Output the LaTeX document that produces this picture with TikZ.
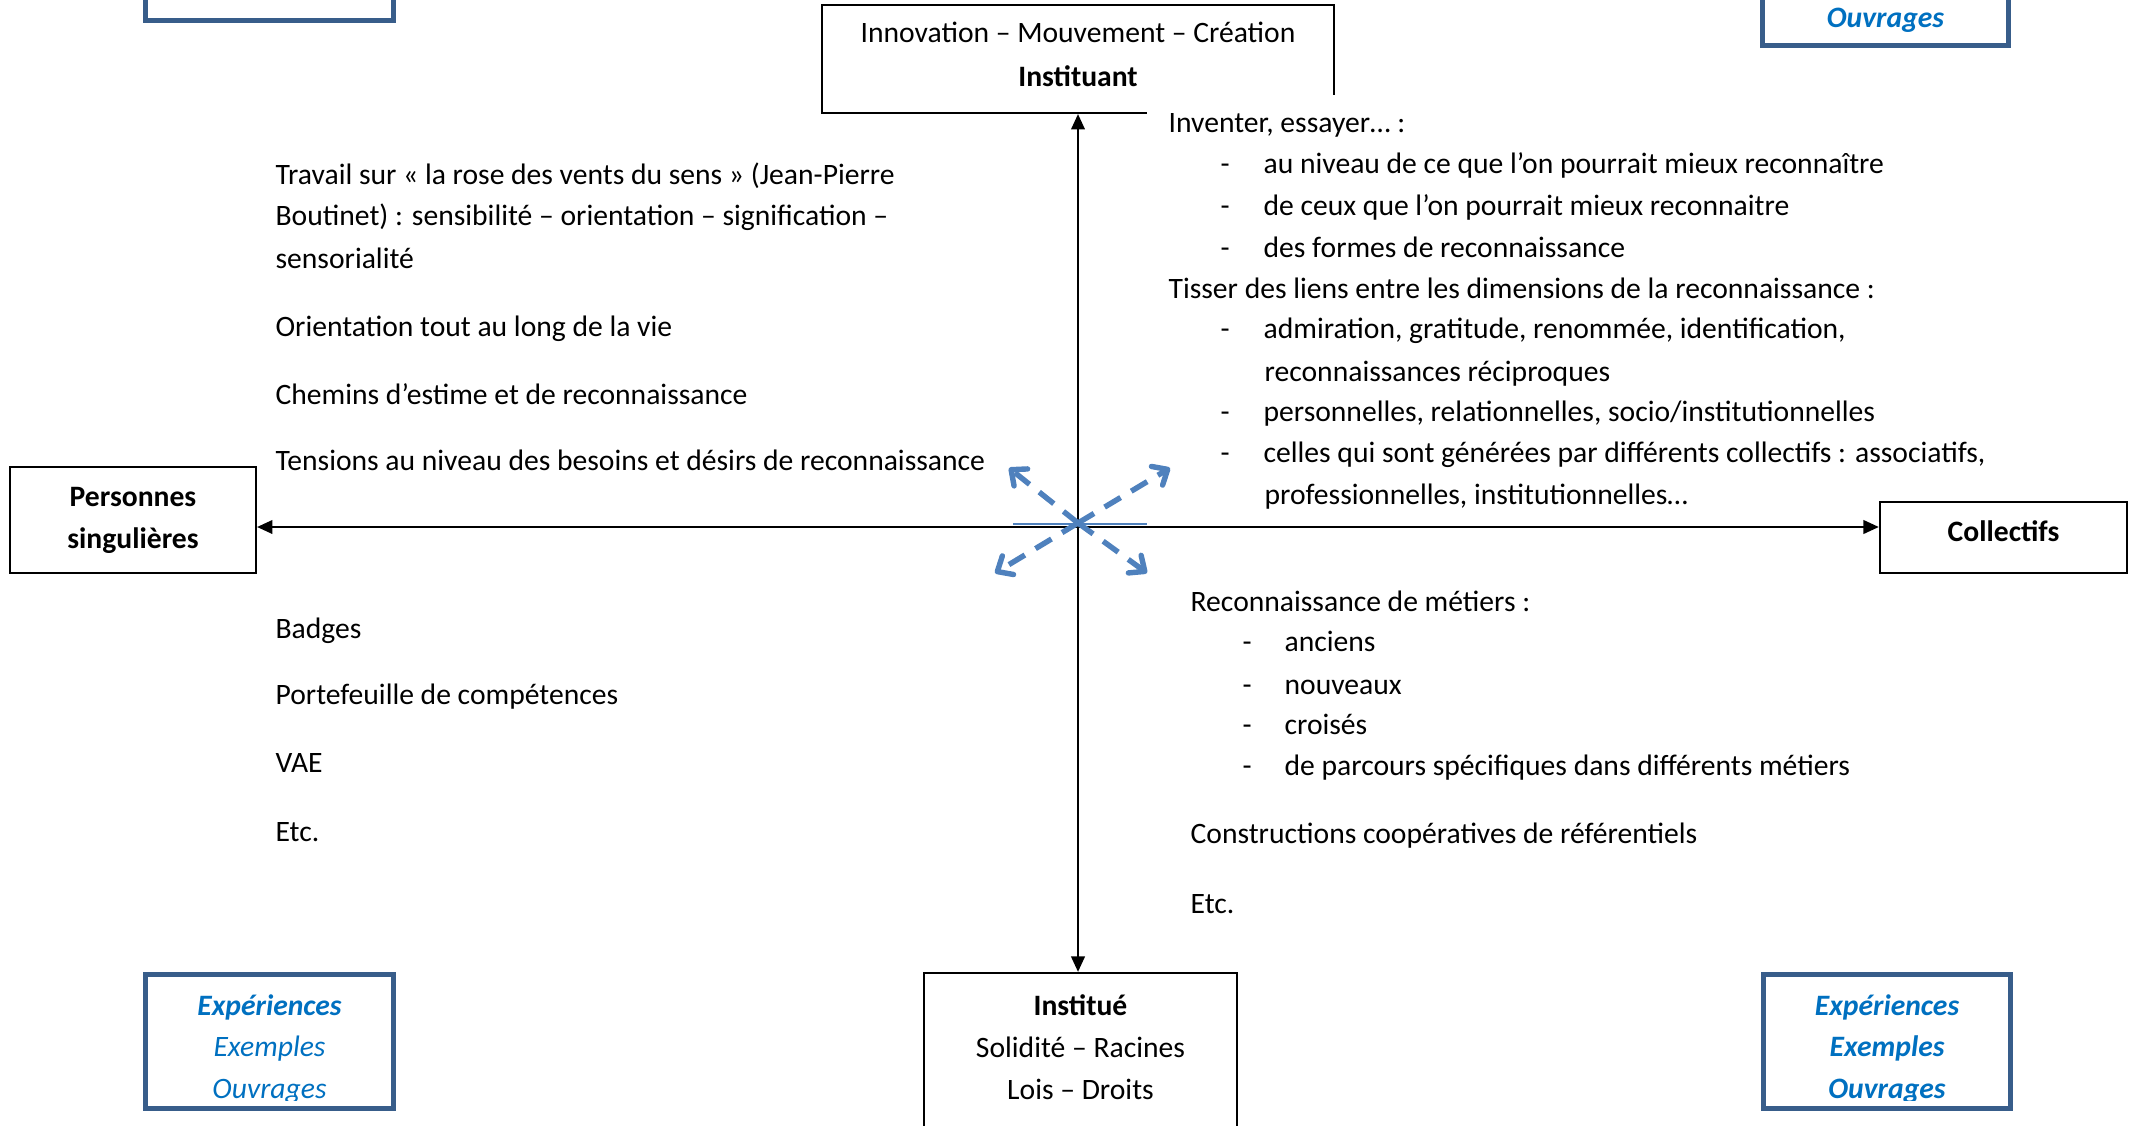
\documentclass[tikz,border=0pt]{standalone}
\usepackage{fontspec}
\setmainfont{Carlito}
\usetikzlibrary{arrows.meta,positioning}
\definecolor{frameblue}{HTML}{385D8A}
\definecolor{textblue}{HTML}{0070C0}
\definecolor{roseblue}{HTML}{4F81BD}
\newcommand{\basefont}{\fontsize{9.55pt}{11.6pt}\selectfont}
\tikzset{
  blackbox/.style={draw, line width=0.65pt, inner sep=0pt},
  blueframe/.style={draw=frameblue, line width=1.6pt},
  lbl/.style={anchor=base, inner sep=0pt, font=\basefont},
  bold/.style={font=\basefont\bfseries},
  bluelbl/.style={lbl, text=textblue, font=\basefont\itshape},
  bluebold/.style={lbl, text=textblue, font=\basefont\bfseries\itshape},
  txt/.style={anchor=base west, inner sep=0pt, font=\basefont},
  axisarrow/.style={line width=0.9pt,
    {Triangle[length=5pt,width=4.3pt]}-{Triangle[length=5pt,width=4.3pt]}},
  rose/.style={roseblue, line width=1.75pt, dash pattern=on 6pt off 4pt,
    -{Straight Barb[length=4pt,width=7pt,round]}}
}
\begin{document}
\begin{tikzpicture}[x=0.3225pt, y=-0.3225pt]
  \useasboundingbox (0,0) rectangle (2134,1125);
  \clip (0,0) rectangle (2134,1125);

  % top and bottom poles
  \node[blackbox, minimum width=165.1pt, minimum height=34.8pt] (inst) at (1078,59) {};
  \node[lbl] (inst-a) at (1078,43) {Innovation – Mouvement – Création};
  \node[lbl, bold] (inst-b) at (1078,87) {Instituant};
  \fill[white] (1147,95) rectangle (1345,120); % frame of the text block

  \node[blackbox, minimum width=100.9pt, minimum height=51.3pt] (instue) at (1080.5,1052.5) {};
  \node[lbl, bold] (instue-a) at (1080.5,1015) {Institué};
  \node[lbl] (instue-b) at (1080.5,1057) {Solidité – Racines};
  \node[lbl] (instue-c) at (1080.5,1099) {Lois – Droits};

  % left and right poles
  \node[blackbox, minimum width=79.3pt, minimum height=34.2pt] (pers) at (133,520) {};
  \node[lbl, bold] (pers-a) at (133,506) {Personnes};
  \node[lbl, bold] (pers-b) at (133,548) {singulières};

  \node[blackbox, minimum width=79.7pt, minimum height=22.9pt] (coll) at (2003.5,537.5) {};
  \node[lbl, bold] (coll-a) at (2003.5,541) {Collectifs};

  % axes
  \coordinate (ctr) at (1078,527);
  \draw[axisarrow] (inst.south) -- (instue.north -| inst.south);
  \draw[axisarrow] (pers.east |- ctr) -- (coll.west |- ctr);
  \draw[roseblue, line width=0.4pt] (1013,524) -- (1147,524);

  % the four dashed arrows
  \coordinate (rose) at (1078,523);
  \coordinate (rose-ul) at (1009,468);
  \coordinate (rose-ur) at (1170,468);
  \coordinate (rose-ll) at (995,573);
  \coordinate (rose-lr) at (1147,573);
  \foreach \d in {ul,ur,ll,lr}
    \draw[rose] (rose) -- (rose-\d);

  % corner frames
  \draw[blueframe] (145.5,-120) rectangle (393.5,20.5);
  \draw[blueframe] (1762.5,-100) rectangle (2008.5,45.5);
  \node[bluebold] (tr-c) at (1885.5,28) {Ouvrages};

  \draw[blueframe] (145.5,974.5) rectangle (393.5,1108.5);
  \begin{scope}
    \clip (145.5,974.5) rectangle (393.5,1100);
    \node[bluebold] (bl-a) at (269.5,1015) {Expériences};
    \node[bluelbl] (bl-b) at (269.5,1056) {Exemples};
    \node[bluelbl] (bl-c) at (269.5,1098) {Ouvrages};
  \end{scope}

  \draw[blueframe] (1763.5,974.5) rectangle (2010.5,1108.5);
  \begin{scope}
    \clip (1763.5,974.5) rectangle (2010.5,1100);
    \node[bluebold] (br-a) at (1887,1015) {Expériences};
    \node[bluebold] (br-b) at (1887,1056) {Exemples};
    \node[bluebold] (br-c) at (1887,1098) {Ouvrages};
  \end{scope}

  % upper left quarter
  \node[txt] (ul-1) at (275,185) {Travail sur « la rose des vents du sens » (Jean-Pierre};
  \node[txt] (ul-2) at (275,225) {Boutinet) : sensibilité – orientation – signification –};
  \node[txt] (ul-3) at (275,268) {sensorialité};
  \node[txt] (ul-4) at (275,336) {Orientation tout au long de la vie};
  \node[txt] (ul-5) at (275,404) {Chemins d’estime et de reconnaissance};
  \node[txt] (ul-6) at (275,470) {Tensions au niveau des besoins et désirs de reconnaissance};

  % lower left quarter
  \node[txt] (ll-1) at (275,638) {Badges};
  \node[txt] (ll-2) at (275,704) {Portefeuille de compétences};
  \node[txt] (ll-3) at (275,772) {VAE};
  \node[txt] (ll-4) at (275,841) {Etc.};

  % upper right quarter
  \node[txt] (ur-1) at (1168,133) {Inventer, essayer… :};
  \foreach \y/\t [count=\i] in {174/{au niveau de ce que l’on pourrait mieux reconnaître},
      216/{de ceux que l’on pourrait mieux reconnaitre},
      257/{des formes de reconnaissance}} {
    \node[txt] (ur-d\i) at (1220,\y) {-};
    \node[txt] (ur-a\i) at (1263,\y) {\t};
  }
  \node[txt] (ur-2) at (1168,298) {Tisser des liens entre les dimensions de la reconnaissance :};
  \foreach \y/\t [count=\i] in {338/{admiration, gratitude, renommée, identification,},
      421/{personnelles, relationnelles, socio/institutionnelles},
      462/{celles qui sont générées par différents collectifs : associatifs,}} {
    \node[txt] (ur-e\i) at (1220,\y) {-};
    \node[txt] (ur-b\i) at (1263,\y) {\t};
  }
  \node[txt] (ur-b1x) at (1264,381) {reconnaissances réciproques};
  \node[txt] (ur-b3x) at (1264,504) {professionnelles, institutionnelles…};

  % lower right quarter
  \node[txt] (lr-1) at (1190,611) {Reconnaissance de métiers :};
  \foreach \y/\t [count=\i] in {651/anciens, 694/nouveaux, 734/croisés,
      775/{de parcours spécifiques dans différents métiers}} {
    \node[txt] (lr-d\i) at (1242,\y) {-};
    \node[txt] (lr-a\i) at (1284,\y) {\t};
  }
  \node[txt] (lr-2) at (1190,843) {Constructions coopératives de référentiels};
  \node[txt] (lr-3) at (1190,913) {Etc.};
\end{tikzpicture}
\end{document}
